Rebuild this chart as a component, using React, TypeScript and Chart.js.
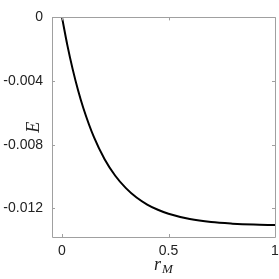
import React, { useEffect, useRef } from "react";
import { Chart, registerables } from "chart.js";

Chart.register(...registerables);

const rValues = [0, 0.025, 0.05, 0.075, 0.1, 0.15, 0.2, 0.25, 0.3, 0.35, 0.4, 0.45, 0.5, 0.6, 0.7, 0.8, 0.9, 1.0];
const energyValues = [0, -0.00174, -0.00325, -0.00456, -0.00569, -0.00753, -0.00891, -0.00995, -0.01073, -0.01132, -0.01176, -0.01209, -0.01234, -0.01267, -0.01286, -0.01296, -0.01302, -0.01305];
const xTicks = [0, 0.5, 1];
const yTicks = [0, -0.004, -0.008, -0.012];
const xTickLabels = ["0", "0.5", "1"];
const yTickLabels = ["0", "-0.004", "-0.008", "-0.012"];
const xTitle = "r";
const xTitleSub = "M";
const yTitle = "E";

const frameColor = "#a0a0a0";

const framePlugin = {
  id: "frame",
  afterDraw(chart: any) {
    const { ctx, chartArea } = chart;
    const { left, right, top, bottom } = chartArea;
    const xs = chart.scales.x;
    const ys = chart.scales.y;
    ctx.save();
    ctx.strokeStyle = frameColor;
    ctx.lineWidth = 1;
    ctx.beginPath();
    ctx.rect(Math.round(left) + 0.5, Math.round(top) + 0.5, Math.round(right - left), Math.round(bottom - top));
    ctx.stroke();
    const tl = 3;
    ctx.beginPath();
    xTicks.forEach((v) => {
      const px = Math.round(xs.getPixelForValue(v)) + 0.5;
      ctx.moveTo(px, bottom);
      ctx.lineTo(px, bottom - tl);
      ctx.moveTo(px, top);
      ctx.lineTo(px, top + tl);
    });
    yTicks.forEach((v) => {
      const py = Math.round(ys.getPixelForValue(v)) + 0.5;
      ctx.moveTo(left, py);
      ctx.lineTo(left + tl, py);
      ctx.moveTo(right, py);
      ctx.lineTo(right - tl, py);
    });
    ctx.stroke();
    // axis titles
    ctx.fillStyle = "#222";
    ctx.textBaseline = "middle";
    ctx.font = "italic 18px 'Liberation Serif', serif";
    ctx.save();
    ctx.translate(34, (top + bottom) / 2);
    ctx.rotate(-Math.PI / 2);
    ctx.textAlign = "center";
    ctx.fillText(yTitle, 0, 0);
    ctx.restore();
    const cx = (left + right) / 2;
    ctx.textAlign = "left";
    ctx.font = "italic 18px 'Liberation Serif', serif";
    const rw = ctx.measureText(xTitle).width;
    ctx.font = "italic 13px 'Liberation Serif', serif";
    const mw = ctx.measureText(xTitleSub).width;
    const start = cx - (rw + mw + 1) / 2;
    ctx.font = "italic 18px 'Liberation Serif', serif";
    ctx.fillText(xTitle, start, 265);
    ctx.font = "italic 13px 'Liberation Serif', serif";
    ctx.fillText(xTitleSub, start + rw + 1, 270);
    ctx.restore();
  },
};

export default function App() {
  const ref = useRef<HTMLCanvasElement>(null);
  useEffect(() => {
    document.body.style.margin = "0";
    const chart = new Chart(ref.current!, {
      type: "scatter",
      data: {
        datasets: [
          {
            data: rValues.map((x, i) => ({ x, y: energyValues[i] })),
            showLine: true,
            borderColor: "#000",
            borderWidth: 2,
            pointRadius: 0,
            tension: 0.4,
            cubicInterpolationMode: "monotone",
          },
        ],
      },
      options: {
        animation: false,
        responsive: false,
        maintainAspectRatio: false,
        layout: { padding: { top: 13, right: 0, left: 0, bottom: 0 } },
        plugins: { legend: { display: false }, tooltip: { enabled: false } },
        scales: {
          x: {
            type: "linear",
            min: -0.047,
            max: 1,
            afterBuildTicks: (s: any) => {
              s.ticks = xTicks.map((v) => ({ value: v }));
            },
            ticks: {
              color: "#222",
              font: { family: "'Liberation Sans', Arial, sans-serif", size: 14 },
              padding: 6,
              callback: (v: any) => xTickLabels[xTicks.indexOf(Number(v))] ?? "",
            },
            grid: { display: false, drawTicks: false },
            border: { display: false },
            afterFit: (s: any) => {
              s.height = 42;
              s.paddingRight = 4;
            },
          },
          y: {
            type: "linear",
            min: -0.0138,
            max: 0,
            afterBuildTicks: (s: any) => {
              s.ticks = yTicks.map((v) => ({ value: v }));
            },
            ticks: {
              color: "#222",
              font: { family: "'Liberation Sans', Arial, sans-serif", size: 14 },
              padding: 9,
              callback: (v: any) => {
                const i = yTicks.findIndex((t) => Math.abs(t - Number(v)) < 1e-9);
                return i >= 0 ? yTickLabels[i] : "";
              },
            },
            grid: { display: false, drawTicks: false },
            border: { display: false },
            afterFit: (s: any) => {
              s.width = 52;
            },
          },
        },
      },
      plugins: [framePlugin],
    } as any);
    return () => chart.destroy();
  }, []);
  return (
    <div style={{ width: 279, height: 279 }}>
      <canvas ref={ref} width={279} height={279} />
    </div>
  );
}
